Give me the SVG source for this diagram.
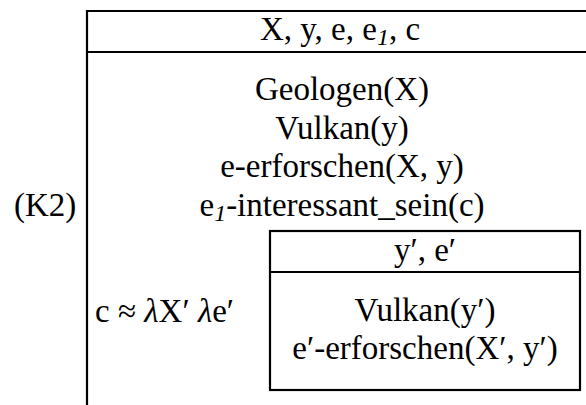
<svg xmlns="http://www.w3.org/2000/svg" width="586" height="405" viewBox="0 0 586 405">
<style>
text{font-family:'Times New Roman',Times,'Liberation Serif',serif;font-size:33px;fill:#000}
.c{text-anchor:middle}
.sub{font-size:24px;font-style:italic}
.it{font-style:italic}
.ln{stroke:#000;stroke-width:2.2;fill:none}
</style>
<rect width="586" height="405" fill="#fff"/>
<g id="label">
<text x="14" y="216">(K2)</text>
</g>
<g id="outer-box">
<line class="ln" x1="87" y1="11" x2="600" y2="11"/>
<line class="ln" x1="87" y1="52" x2="600" y2="52"/>
<line class="ln" x1="87" y1="10" x2="87" y2="405"/>
<text class="c" x="340" y="40">X, y, e, e<tspan class="sub" dy="5">1</tspan><tspan dy="-5">, c</tspan></text>
<text class="c" x="342" y="100">Geologen(X)</text>
<text class="c" x="342" y="139">Vulkan(y)</text>
<text class="c" x="342" y="177">e-erforschen(X, y)</text>
<text class="c" x="342" y="216">e<tspan class="sub" dy="5">1</tspan><tspan dy="-5">-interessant_sein(c)</tspan></text>
<text x="95" y="322">c ≈ <tspan class="it">λ</tspan>X′ <tspan class="it">λ</tspan>e′</text>
</g>
<g id="inner-box">
<rect class="ln" x="270" y="231" width="310" height="159"/>
<line class="ln" x1="270" y1="272" x2="580" y2="272"/>
<text class="c" x="425" y="261">y′, e′</text>
<text class="c" x="425" y="321">Vulkan(y′)</text>
<text class="c" x="425" y="359">e′-erforschen(X′, y′)</text>
</g>
<g id="connectors"/>
</svg>
